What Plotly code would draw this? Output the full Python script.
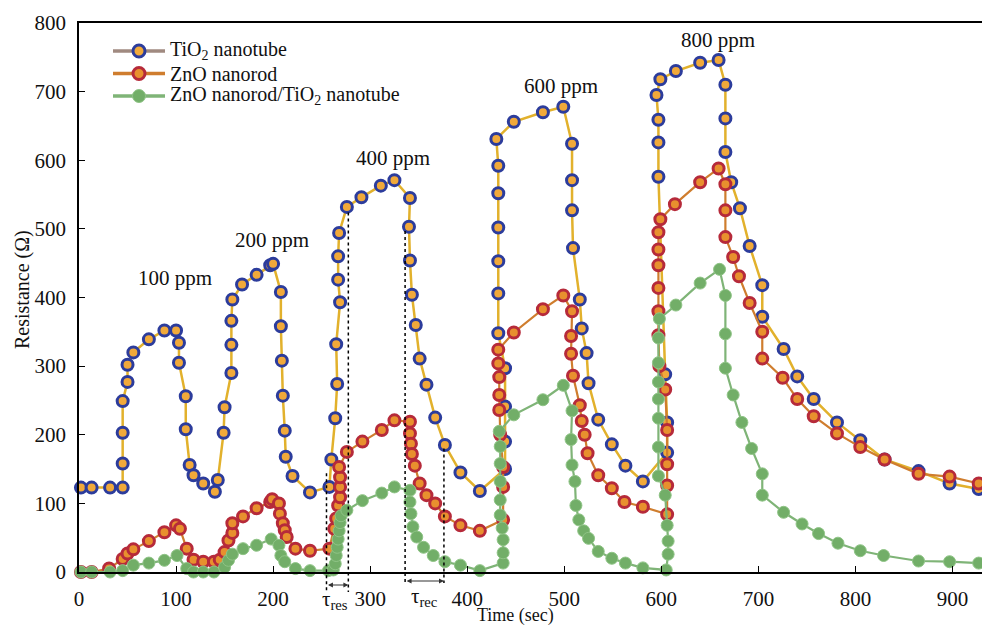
import plotly.graph_objects as go

# ---------------- data ----------------
tio2_t = [2, 13, 32, 45, 45, 45, 45, 50, 50, 56, 72, 88, 100, 103, 103, 110, 110, 114, 118, 128, 140, 143,
          149, 150, 157, 157, 157, 158, 168, 183, 197,
          200, 208, 208, 209, 210, 212, 213, 220, 238, 258, 260, 264, 266, 265, 269, 267, 267, 268, 276, 291,
          311, 325, 341, 340, 341, 343, 347, 351, 358, 367,
          377, 393, 413, 439, 439, 439, 439, 432, 432, 432, 432, 432, 432, 430, 448, 478, 499,
          508, 508, 508, 509, 516, 518, 523, 525, 535, 549, 563, 581,
          606, 606, 604, 597, 597, 597, 595, 599, 615, 640, 659, 666, 666, 666, 672, 681, 691, 704, 704,
          726, 740, 757, 781, 805, 830, 865, 897, 927]
tio2_r = [123, 123, 123, 123, 158, 203, 249, 277, 302, 320, 339, 352, 352, 334, 305, 256, 208, 156, 141, 129, 117, 134,
          203, 240, 290, 331, 366, 397, 419, 433, 447,
          449, 408, 358, 308, 257, 206, 168, 140, 116, 124, 164, 224, 274, 332, 393, 426, 460, 494, 532, 546,
          563, 571, 545, 503, 454, 404, 360, 311, 273, 225,
          185, 145, 118, 150, 190, 241, 297, 348, 406, 453, 502, 552, 592, 631, 656, 670, 678,
          624, 571, 527, 472, 397, 355, 319, 275, 222, 186, 155, 132,
          174, 218, 288, 576, 626, 659, 695, 718, 730, 742, 746, 710, 661, 612, 568, 530, 475, 418, 372,
          325, 285, 252, 218, 192, 164, 147, 129, 121]

zno_t = [2, 13, 31, 45, 50, 56, 72, 88, 100, 104, 111, 118, 128, 139, 145, 150, 154, 158, 158, 169, 183, 197,
         199, 206, 207, 210, 212, 214, 223, 238, 258, 263, 265, 267, 269, 269, 269, 268, 276, 292, 312, 325,
         341, 341, 342, 343, 346, 351, 358,
         367, 377, 393, 413, 437, 437, 437, 434, 433, 433, 433, 432, 432, 448, 478, 499,
         508, 507, 507, 509, 516, 518, 521, 524, 535, 549, 562, 581, 606,
         606, 606, 606, 604, 598, 597, 597, 597, 597, 597, 597, 599, 614, 640, 659, 666, 666, 666, 674, 680, 691,
         704, 704, 725, 740, 757, 781, 805, 830, 865, 897, 927]
zno_r = [0, 0, 5, 19, 27, 33, 45, 58, 68, 63, 34, 18, 15, 15, 18, 29, 46, 57, 71, 81, 93, 102,
         106, 100, 85, 71, 61, 51, 34, 31, 34, 63, 78, 97, 109, 124, 138, 153, 175, 190, 207, 221,
         219, 202, 187, 172, 155, 129, 112,
         100, 81, 68, 60, 76, 124, 153, 200, 236, 258, 284, 304, 324, 349, 383, 403,
         380, 344, 318, 286, 243, 220, 200, 173, 141, 122, 102, 95, 84,
         126, 157, 207, 266, 300, 345, 380, 414, 447, 470, 495, 514, 536, 568, 588, 565, 527, 488, 459, 431, 392,
         350, 311, 283, 252, 227, 202, 182, 164, 143, 139, 129]

comp_t = [2, 13, 32, 45, 56, 72, 88, 101, 111, 118, 128, 139, 150, 154, 158, 169, 183, 198,
          206, 208, 212, 223, 238, 257, 262, 264, 265, 266, 267, 268, 269, 270, 276, 292, 312, 325,
          341, 341, 342, 344, 348, 355, 365, 377, 393, 413,
          437, 437, 437, 436, 434, 434, 434, 434, 434, 433, 448, 478, 499,
          508, 507, 508, 511, 512, 515, 520, 525, 535, 549, 563, 581, 605,
          607, 607, 606, 604, 597, 597, 597, 597, 597, 597, 597, 598, 615, 640, 660,
          666, 666, 666, 674, 683, 693, 704, 704, 726, 745, 762, 782, 805, 829, 865, 897, 927]
comp_r = [0, 0, 0, 2, 10, 13, 17, 24, 5, 0, 0, 0, 7, 17, 26, 34, 39, 48,
          39, 24, 15, 5, 2, 2, 3, 12, 24, 36, 48, 60, 72, 82, 90, 104, 115, 124,
          119, 102, 85, 66, 51, 36, 24, 15, 10, 2,
          13, 28, 47, 64, 83, 105, 132, 158, 183, 205, 229, 251, 272,
          235, 193, 156, 132, 97, 76, 60, 49, 30, 20, 13, 6, 3,
          26, 45, 68, 112, 140, 182, 224, 252, 277, 305, 341, 369, 389, 421, 441,
          403, 347, 297, 258, 218, 180, 143, 112, 87, 70, 56, 42, 31, 24, 16, 15, 13]

series_names = ["TiO<sub>2</sub> nanotube", "ZnO nanorod", "ZnO nanorod/TiO<sub>2</sub> nanotube"]

conc_labels = ["100 ppm", "200 ppm", "400 ppm", "600 ppm", "800 ppm"]
conc_t = [99, 199, 324, 497, 658]
conc_r = [428, 484, 603, 708, 775]

x_ticks = [0, 100, 200, 300, 400, 500, 600, 700, 800, 900]
y_ticks = [0, 100, 200, 300, 400, 500, 600, 700, 800]

# response / recovery time markers: (time, top resistance)
tau_res_t = [255, 277.5]
tau_res_top = [144, 524]
tau_rec_t = [336, 376]
tau_rec_top = [497, 180]

X_MAX = 930.4
Y_MAX = 800
PLOT_W = 903.0
PLOT_H = 549.0
LEFT = 79.0
BOTTOM_PX = 572.0

FONT = "Liberation Serif"

# ---------------- styles ----------------
styles = [
    dict(line=dict(color="#e2b12c", width=2.5),
         marker=dict(size=11, color="#f1a93a", line=dict(color="#2c3c9c", width=3)),
         legend_line="#a08a80"),
    dict(line=dict(color="#cf7d2e", width=2.2),
         marker=dict(size=11, color="#e8902e", line=dict(color="#b62a3a", width=3)),
         legend_line="#cf7d2e"),
    dict(line=dict(color="#7fb477", width=2.2),
         marker=dict(size=12, color="#72ae68", line=dict(color="#8fc486", width=1)),
         legend_line="#7fb477"),
]

fig = go.Figure()
data = [(tio2_t, tio2_r), (zno_t, zno_r), (comp_t, comp_r)]
for (t, r), st, name in zip(data, styles, series_names):
    fig.add_trace(go.Scatter(x=t, y=r, mode="lines+markers", line=st["line"], name=name,
                             marker=st["marker"], showlegend=False, cliponaxis=False,
                             hoverinfo="skip"))


def px_x(px):
    return (px - LEFT) / PLOT_W


def px_y(py):
    return (BOTTOM_PX - py) / PLOT_H


# legend, drawn by hand to match the tight row spacing
legend_rows_py = [51.0, 73.5, 96.0]
for name, st, py in zip(series_names, styles, legend_rows_py):
    fig.add_shape(type="line", xref="paper", yref="paper", x0=px_x(113), x1=px_x(165),
                  y0=px_y(py), y1=px_y(py), line=dict(color=st["legend_line"], width=3.5))
    mk = st["marker"]
    rad = mk["size"] / 2 + 0.5
    fig.add_shape(type="circle", xref="paper", yref="paper", xsizemode="pixel", ysizemode="pixel",
                  xanchor=px_x(139), yanchor=px_y(py), x0=-rad, x1=rad, y0=-rad, y1=rad,
                  fillcolor=mk["color"], line=dict(color=mk["line"]["color"], width=mk["line"]["width"]))
    fig.add_annotation(x=px_x(168), y=px_y(py), xref="paper", yref="paper", text=name,
                       xanchor="left", yanchor="middle", showarrow=False,
                       font=dict(family=FONT, size=20, color="#111"))

# concentration labels
for lab, t, r in zip(conc_labels, conc_t, conc_r):
    fig.add_annotation(x=t, y=r, text=lab, showarrow=False, xref="x", yref="y",
                       xanchor="center", yanchor="middle",
                       font=dict(family=FONT, size=21, color="#111"))


def below(dy):
    return -dy / PLOT_H


# dotted tau lines
for ts, tops, bottom in ((tau_res_t, tau_res_top, 20), (tau_rec_t, tau_rec_top, 11)):
    for t, top in zip(ts, tops):
        fig.add_shape(type="line", xref="x", yref="paper", x0=t, x1=t,
                      y0=top / Y_MAX, y1=below(bottom),
                      line=dict(color="black", width=1.5, dash="dot"))

# double arrows
for ts, dy in ((tau_res_t, 13), (tau_rec_t, 9)):
    fig.add_annotation(x=ts[1], y=below(dy), xref="x", yref="paper",
                       ax=ts[0], ay=0, axref="x", ayref="pixel",
                       showarrow=True, arrowhead=2, arrowside="end+start",
                       arrowsize=0.9, arrowwidth=1.1, arrowcolor="#333", text="")

fig.add_annotation(x=sum(tau_res_t) / 2 - 3, y=below(28), xref="x", yref="paper",
                   text="τ<sub>res</sub>", showarrow=False, xanchor="center", yanchor="middle",
                   font=dict(family=FONT, size=21, color="#111"))
fig.add_annotation(x=sum(tau_rec_t) / 2, y=below(25), xref="x", yref="paper",
                   text="τ<sub>rec</sub>", showarrow=False, xanchor="center", yanchor="middle",
                   font=dict(family=FONT, size=21, color="#111"))

# axis titles
fig.add_annotation(x=450, y=below(43), xref="x", yref="paper", text="Time (sec)",
                   showarrow=False, xanchor="center", yanchor="middle",
                   font=dict(family=FONT, size=18, color="#111"))
fig.add_annotation(x=px_x(22), y=px_y(290), xref="paper", yref="paper", text="Resistance (Ω)",
                   textangle=-90, showarrow=False, xanchor="center", yanchor="middle",
                   font=dict(family=FONT, size=20, color="#111"))

fig.update_layout(
    width=982, height=625,
    margin=dict(l=79, r=0, t=23, b=53),
    plot_bgcolor="white", paper_bgcolor="white",
    font=dict(family=FONT, size=21, color="#111"),
    showlegend=False,
)
fig.update_xaxes(range=[0, X_MAX], tickvals=x_ticks, ticks="inside", ticklen=6,
                 tickcolor="black", showline=True, linecolor="black", linewidth=1.5,
                 mirror=True, showgrid=False, zeroline=False, ticklabelstandoff=7,
                 tickfont=dict(family=FONT, size=21, color="#111"))
fig.update_yaxes(range=[0, Y_MAX], tickvals=y_ticks, ticks="inside", ticklen=6,
                 tickcolor="black", showline=True, linecolor="black", linewidth=1.5,
                 mirror=False, showgrid=False, zeroline=False, ticklabelstandoff=7,
                 tickfont=dict(family=FONT, size=21, color="#111"))

fig.write_html("out.html")
